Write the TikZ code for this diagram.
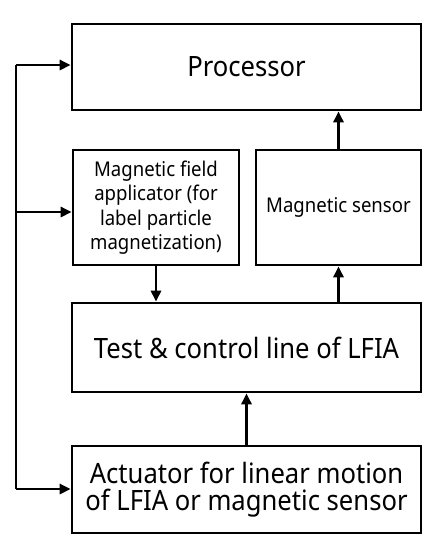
\documentclass[tikz,border=0pt]{standalone}
\usepackage{fontspec}
\setmainfont{Noto Sans}[FakeStretch=0.915]
\usetikzlibrary{arrows.meta}
\begin{document}
\begin{tikzpicture}[x=1pt,y=-1pt,
  box/.style={draw,line width=2.6pt,inner sep=0pt,align=center},
  big/.style={font=\fontsize{28}{27}\selectfont},
  small/.style={font=\fontsize{20.3}{24.5}\selectfont},
  arr/.style={line width=2.6pt,-{Triangle[length=11pt,width=10pt]}},
  ln/.style={line width=2.6pt}]
\useasboundingbox (0,0) rectangle (441,550);
\node[box,big,minimum width=349pt,minimum height=86pt] (proc) at (246.5,67) {Processor};
\node[box,small,minimum width=166pt,minimum height=115pt] (mf) at (156,207.5) {Magnetic field\\applicator (for\\label particle\\magnetization)};
\node[box,small,minimum width=165pt,minimum height=115pt] (ms) at (338.5,207.5) {Magnetic sensor};
\node[box,big,minimum width=349pt,minimum height=89pt] (test) at (246.5,347.5) {Test \& control line of LFIA};
\node[box,big,minimum width=349pt,minimum height=87pt] (act) at (246.5,489.5) {Actuator for linear motion\\of LFIA or magnetic sensor};
\coordinate (top) at (16,65);
\coordinate (mid) at (16,212);
\coordinate (bot) at (16,489);
\draw[ln] (top) -- (bot);
\draw[arr] (top) -- (top -| proc.west);
\draw[arr] (mid) -- (mid -| mf.west);
\draw[arr] (bot) -- (bot -| act.west);
\draw[arr] (mf.south) -- (mf.south |- test.north);
\draw[arr] (test.north -| ms.south) -- (ms.south);
\draw[arr] (ms.north) -- (ms.north |- proc.south);
\draw[arr] (act.north) -- (test.south);
\end{tikzpicture}
\end{document}
